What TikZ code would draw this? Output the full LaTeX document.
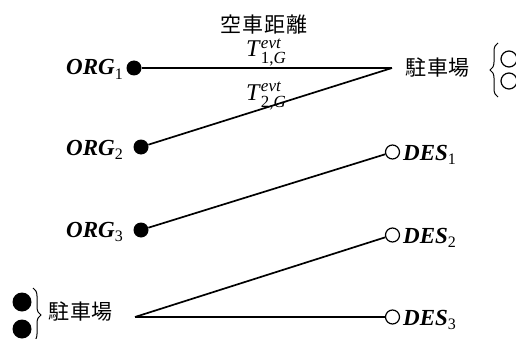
\documentclass[tikz,border=0pt]{standalone}
\usepackage{fontspec}
\setmainfont{Liberation Serif}
\newfontfamily\cjk[LetterSpace=4]{Noto Sans CJK JP}
\usetikzlibrary{decorations.pathreplacing}
\newcommand\lbl[2]{{\bfseries\itshape #1}\raisebox{-4.5pt}{\fontsize{16}{18}\selectfont #2}}
\newcommand\tev[1]{\textit{T}\rlap{\raisebox{8.5pt}{\fontsize{17}{19}\selectfont\textit{evt}}}\raisebox{-7pt}{\fontsize{17}{19}\selectfont #1,\textit{G}}}
\begin{document}
\begin{tikzpicture}[x=1pt,y=1pt,
  conn/.style={line width=1.7pt},
  fdot/.style={circle,fill=black,inner sep=0pt,minimum size=15pt},
  odot/.style={circle,draw=black,fill=white,line width=1.2pt,inner sep=0pt,minimum size=14pt},
  lab/.style={font=\fontsize{23}{28}\selectfont,inner sep=0pt},
  tlab/.style={font=\fontsize{24}{28}\selectfont,inner sep=0pt,text height=19pt,text depth=8pt,anchor=base west},
  jp/.style={font=\cjk\fontsize{21}{25}\selectfont,inner sep=0pt},
  brc/.style={decorate,decoration={brace,amplitude=8pt},line width=1pt}]
\useasboundingbox (0,0) rectangle (516,338);
% endpoints
\node[fdot] (o1) at (134,270) {};
\node[fdot] (o2) at (141,191) {};
\node[fdot] (o3) at (141,108) {};
\node[odot] (d1) at (392.5,186) {};
\node[odot] (d2) at (392.5,103) {};
\node[odot] (d3) at (392.5,21) {};
\coordinate (pR) at (392,270);
\coordinate (pL) at (135,21);
% connectors
\draw[conn] (o1) -- (pR);
\draw[conn] (o2) -- (pR);
\draw[conn] (o3) -- (d1);
\draw[conn] (pL) -- (d2);
\draw[conn] (pL) -- (d3);
% labels
\node[lab,anchor=base east] (L1) at (123,263) {\lbl{ORG}{1}};
\node[lab,anchor=base east] (L2) at (123,183) {\lbl{ORG}{2}};
\node[lab,anchor=base east] (L3) at (123,101) {\lbl{ORG}{3}};
\node[lab,anchor=base west] (D1) at (403,178) {\lbl{DES}{1}};
\node[lab,anchor=base west] (D2) at (403,95) {\lbl{DES}{2}};
\node[lab,anchor=base west] (D3) at (403,13) {\lbl{DES}{3}};
\node[tlab] (t1) at (246,281) {\tev{1}};
\node[tlab] (t2) at (246,238) {\tev{2}};
\node[jp,anchor=base,text height=16pt,text depth=1pt] (title) at (264,305) {空車距離};
% right parking
\node[jp,anchor=west] (pRt) at (405,270) {駐車場};
\draw[brc] (498,241) -- (498,295);
\node[odot,minimum size=16pt] (c1) at (509,279) {};
\node[odot,minimum size=16pt] (c2) at (509,257) {};
% left parking
\node[fdot,minimum size=19pt] (b1) at (22,36) {};
\node[fdot,minimum size=19pt] (b2) at (22,9) {};
\draw[brc] (33,50) -- (33,-4);
\node[jp,anchor=west] (pLt) at (48,26) {駐車場};
\end{tikzpicture}
\end{document}
